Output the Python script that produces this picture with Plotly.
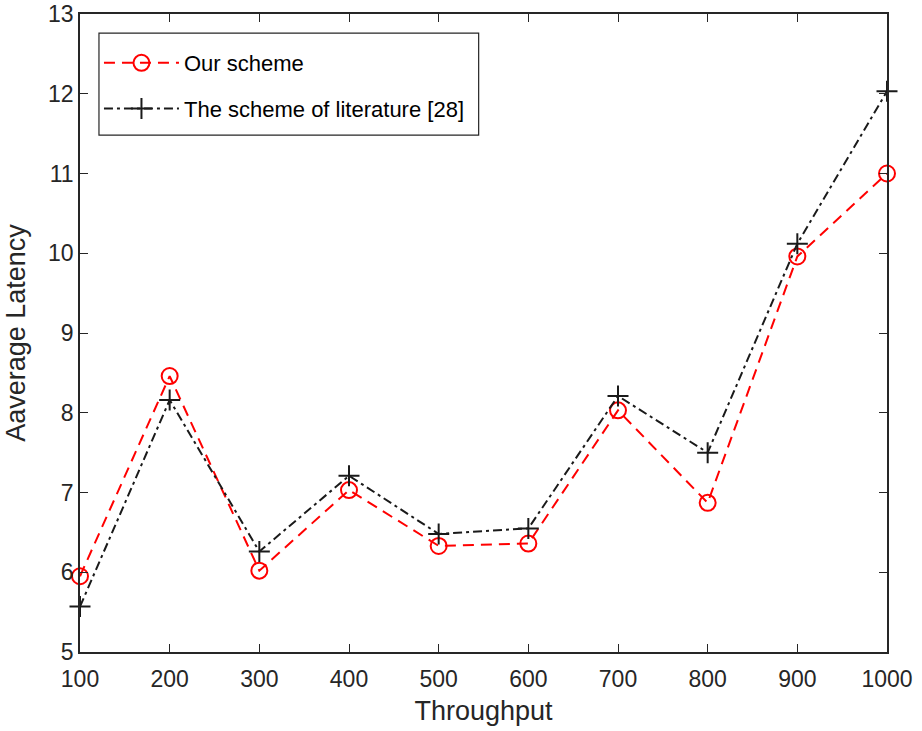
import plotly.graph_objects as go

throughput = [100, 200, 300, 400, 500, 600, 700, 800, 900, 1000]
our_scheme = [5.95, 8.46, 6.02, 7.03, 6.33, 6.36, 8.03, 6.87, 9.96, 11.0]
literature = [5.57, 8.16, 6.26, 7.21, 6.48, 6.55, 8.21, 7.50, 10.12, 12.03]

fig = go.Figure()
fig.add_trace(go.Scatter(
    x=throughput, y=our_scheme, mode="lines+markers", name="Our scheme",
    legendgroup="a", cliponaxis=False,
    line=dict(color="#FF0000", width=2, dash="11px,7px"),
    marker=dict(symbol="circle-open", size=16, color="#FF0000", line=dict(width=2, color="#FF0000")),
))
fig.add_trace(go.Scatter(
    x=throughput, y=literature, mode="lines+markers", name="The scheme of literature [28]",
    legendgroup="b", cliponaxis=False,
    line=dict(color="#1a1a1a", width=2, dash="9px,4px,3px,4px"),
    marker=dict(symbol="cross-thin-open", size=15, color="#1a1a1a", line=dict(width=2, color="#1a1a1a")),
))

axis_common = dict(
    showline=True, linecolor="#262626", linewidth=1.5, mirror="allticks",
    ticks="inside", ticklen=8, tickcolor="#262626", tickwidth=1,
    showgrid=False, zeroline=False, automargin=False,
    tickfont=dict(family="Liberation Sans, Arial", size=23, color="#262626"),
)

fig.update_layout(
    width=922, height=731,
    margin=dict(l=80, r=35, t=14, b=79),
    paper_bgcolor="white", plot_bgcolor="white",
    font=dict(family="Liberation Sans, Arial", color="#262626"),
    xaxis=dict(range=[100, 1000], tickvals=throughput, ticklabelstandoff=6,
               title=dict(text="Throughput", font=dict(size=27, color="#262626"), standoff=10),
               **axis_common),
    yaxis=dict(range=[5, 13], tickvals=[5, 6, 7, 8, 9, 10, 11, 12, 13],
               title=dict(text="Aaverage Latency", font=dict(size=27, color="#262626"), standoff=15),
               **axis_common),
    legend=dict(x=0.0235, y=0.956, xanchor="left", yanchor="top",
                bgcolor="rgba(0,0,0,0)", borderwidth=0,
                font=dict(family="Liberation Sans, Arial", size=22, color="#000000"),
                traceorder="grouped", tracegroupgap=14, itemwidth=75),
    shapes=[dict(type="rect", xref="paper", yref="paper",
                 x0=0.0235, x1=0.494, y0=0.8103, y1=0.970,
                 line=dict(color="#262626", width=1.2), fillcolor="white", layer="below")],
    showlegend=True,
)

fig.write_html("out.html")
